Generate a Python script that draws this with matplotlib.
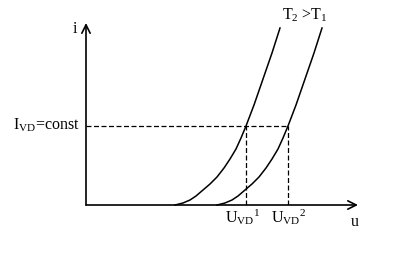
"""Diode I-V characteristic at two temperatures (T2 > T1)."""
import matplotlib

matplotlib.use("Agg")
import matplotlib.pyplot as plt

plt.rcParams["font.family"] = ["Liberation Serif", "DejaVu Serif"]
plt.rcParams["mathtext.fontset"] = "custom"
plt.rcParams["mathtext.rm"] = "Liberation Serif"
plt.rcParams["mathtext.it"] = "Liberation Serif"

# curve T1 (left) and T2 (right)
u_t1 = [89, 97, 104, 110, 117, 124, 131, 138, 144, 150, 155, 160, 168, 177, 186, 194]
u_t2 = [131, 139, 146, 152, 159, 166, 173, 180, 186, 192, 197, 202, 210, 219, 228, 236]
i_curve = [0, 2, 5, 9, 15, 21, 28, 37, 46, 56, 67, 79, 100, 126, 152, 177]

i_const = 79
u_vd1 = 160
u_vd2 = 202
u_max = 272
i_max = 182

fig = plt.figure(figsize=(3.97, 2.56), dpi=100)
ax = fig.add_axes([86 / 397, 51 / 256, u_max / 397, i_max / 256])
ax.set_xlim(0, u_max)
ax.set_ylim(0, i_max)
ax.axis("off")

arrow = dict(arrowstyle="->", lw=1.2, color="black", mutation_scale=15,
             shrinkA=0, shrinkB=0)
ax.annotate("", xy=(u_max, 0), xytext=(0, 0), arrowprops=arrow,
            annotation_clip=False)
ax.annotate("", xy=(0, i_max), xytext=(0, 0), arrowprops=arrow,
            annotation_clip=False)

ax.plot(u_t1, i_curve, color="black", lw=1.1, clip_on=False)
ax.plot(u_t2, i_curve, color="black", lw=1.1, clip_on=False)

dash = dict(color="black", lw=0.9, dashes=(4, 2))
ax.plot([0, u_vd2], [i_const, i_const], **dash)
ax.plot([u_vd1, u_vd1], [0, i_const], **dash)
ax.plot([u_vd2, u_vd2], [0, i_const], **dash)

fs = 11.5
ax.text(-9, 176, "i", fontsize=fs, ha="right", va="center")
ax.text(-6, i_const + 1, r"I$_{\rm VD}$=const", fontsize=fs, ha="right",
        va="center")
ax.text(219, 190, r"T$_2$ >T$_1$", fontsize=fs, ha="center", va="center")
ax.text(u_vd1 - 3, -12, r"U$_{\rm VD}{}^{1}$", fontsize=fs, ha="center",
        va="center")
ax.text(u_vd2 + 1, -12, r"U$_{\rm VD}{}^{2}$", fontsize=fs, ha="center",
        va="center")
ax.text(269, -17, "u", fontsize=fs, ha="center", va="center")

fig.savefig("out.png", dpi=100)
